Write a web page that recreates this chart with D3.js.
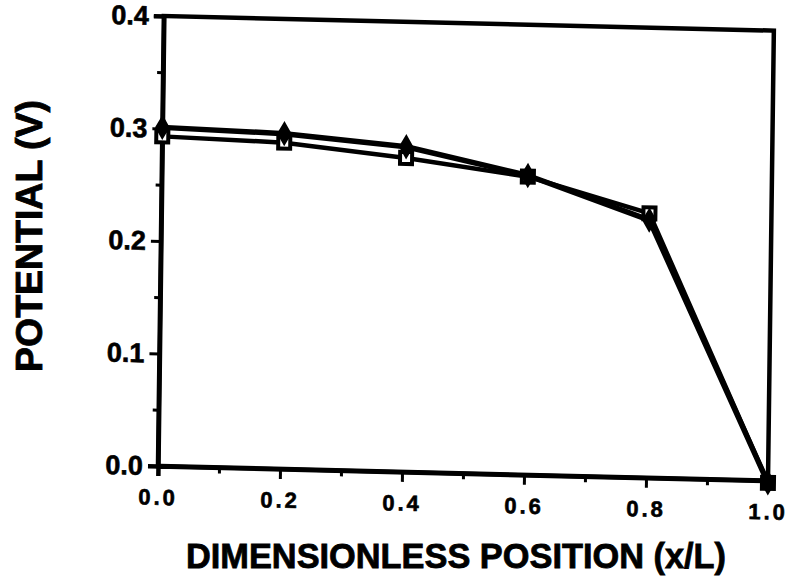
<!DOCTYPE html>
<html>
<head>
<meta charset="utf-8">
<script src="https://cdn.jsdelivr.net/npm/d3@7"></script>
<style>
  html, body { margin: 0; padding: 0; background: #fff; }
  svg { display: block; }
  text { font-family: "Liberation Sans", Arial, Helvetica, sans-serif; font-weight: bold; fill: #000; }
</style>
</head>
<body>
<svg id="chart" width="793" height="583"></svg>
<script>
// Dimensionless position along the electrode
const positions = [0.0, 0.2, 0.4, 0.6, 0.8, 1.0];
// Potential profiles (V) for the two cases
const seriesCircle = [0.301, 0.298, 0.289, 0.266, 0.229, -0.002];
const seriesSquare = [0.293, 0.290, 0.279, 0.265, 0.235, -0.002];
// Tick values and labels
const xTicks = [0.0, 0.2, 0.4, 0.6, 0.8, 1.0];
const xTickLabels = ["0.0", "0.2", "0.4", "0.6", "0.8", "1.0"];
const yTicks = [0.0, 0.1, 0.2, 0.3, 0.4];
const yTickLabels = ["0.0", "0.1", "0.2", "0.3", "0.4"];
const xMinor = [0.1, 0.3, 0.5, 0.7, 0.9];
const yMinor = [0.05, 0.15, 0.25, 0.35];

const W = 610, H = 450;
const svg = d3.select("#chart");

// plot frame, slightly skewed like a scanned page
const g = svg.append("g")
  .attr("transform", "translate(158,466) matrix(1,0.024,-0.013,1,0,0)");

const x = d3.scaleLinear().domain([0, 1]).range([0, W]);
const y = d3.scaleLinear().domain([0, 0.4]).range([0, -H]);

// frame
g.append("rect")
  .attr("x", x(0)).attr("y", y(0.4))
  .attr("width", x(1) - x(0)).attr("height", y(0) - y(0.4))
  .attr("fill", "none").attr("stroke", "#000").attr("stroke-width", 4.5);

// x axis
const xAxis = d3.axisBottom(x)
  .tickValues(xTicks)
  .tickFormat((d, i) => xTickLabels[i])
  .tickSize(10).tickPadding(9);
const xa = g.append("g").call(xAxis);
xa.select(".domain").attr("stroke-width", 4.5);
xa.selectAll(".tick line").attr("stroke-width", 3);
xa.selectAll(".tick text")
  .style("font-size", "22px")
  .style("letter-spacing", "3px")
  .style("stroke", "#000").style("stroke-width", 0.6)
  .attr("dy", "0.9em");

const xaMinor = g.append("g").call(d3.axisBottom(x).tickValues(xMinor).tickSize(6).tickFormat(""));
xaMinor.select(".domain").remove();
xaMinor.selectAll(".tick line").attr("stroke-width", 3);

// y axis
const yAxis = d3.axisLeft(y)
  .tickValues(yTicks)
  .tickFormat((d, i) => yTickLabels[i])
  .tickSize(10).tickPadding(5);
const ya = g.append("g").call(yAxis);
ya.select(".domain").attr("stroke-width", 4.5);
ya.selectAll(".tick line").attr("stroke-width", 3);
ya.selectAll(".tick text")
  .style("font-size", "27px")
  .style("stroke", "#000").style("stroke-width", 0.6);

const yaMinor = g.append("g").call(d3.axisLeft(y).tickValues(yMinor).tickSize(6).tickFormat(""));
yaMinor.select(".domain").remove();
yaMinor.selectAll(".tick line").attr("stroke-width", 3);

// series lines
const line = d3.line().x(d => x(d[0])).y(d => y(d[1]));
const dataCircle = positions.map((p, i) => [p, seriesCircle[i]]);
const dataSquare = positions.map((p, i) => [p, seriesSquare[i]]);

g.append("path").datum(dataSquare).attr("d", line)
  .attr("fill", "none").attr("stroke", "#000").attr("stroke-width", 4.5).attr("stroke-linejoin", "round");
g.append("path").datum(dataCircle).attr("d", line)
  .attr("fill", "none").attr("stroke", "#000").attr("stroke-width", 5.5).attr("stroke-linejoin", "round");

// markers
g.selectAll(".sq").data(dataSquare).enter().append("rect")
  .attr("x", d => x(d[0]) - 6).attr("y", d => y(d[1]) - 6)
  .attr("width", 12).attr("height", 12)
  .attr("fill", "#fff").attr("stroke", "#000").attr("stroke-width", 4);
g.selectAll(".ci").data(dataCircle).enter().append("path")
  .attr("d", d3.symbol().type(d3.symbolDiamond).size(120))
  .attr("transform", d => `translate(${x(d[0])},${y(d[1])})`)
  .attr("fill", "#000").attr("stroke", "#000").attr("stroke-width", 2.5);

// axis titles
svg.append("text")
  .attr("x", 456).attr("y", 568)
  .attr("text-anchor", "middle")
  .style("font-size", "35px")
  .style("stroke", "#000").style("stroke-width", 0.8)
  .attr("textLength", 540).attr("lengthAdjust", "spacingAndGlyphs")
  .text("DIMENSIONLESS POSITION (x/L)");

svg.append("text")
  .attr("transform", "translate(42,236) rotate(-90)")
  .attr("text-anchor", "middle")
  .style("font-size", "37px")
  .style("stroke", "#000").style("stroke-width", 0.8)
  .attr("textLength", 272).attr("lengthAdjust", "spacingAndGlyphs")
  .text("POTENTIAL (V)");
</script>
</body>
</html>
